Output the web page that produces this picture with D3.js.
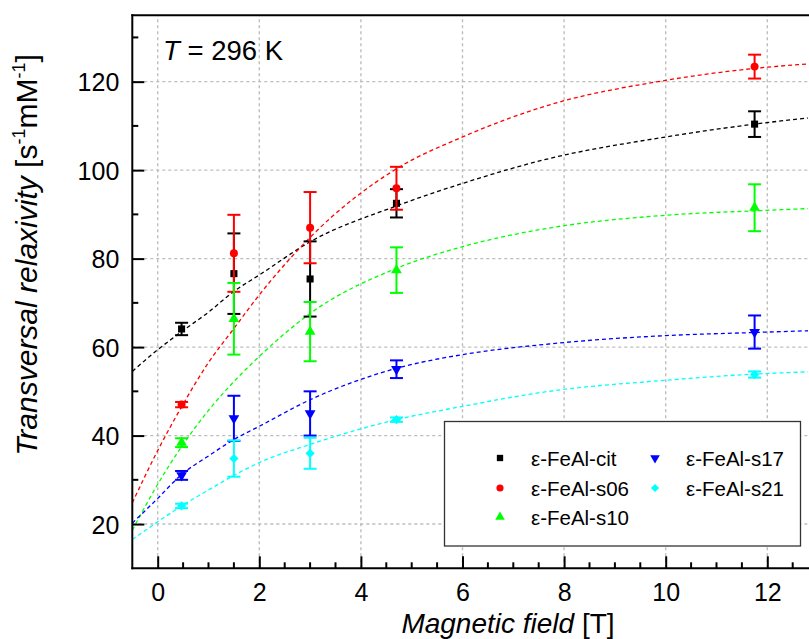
<!DOCTYPE html>
<html>
<head>
<meta charset="utf-8">
<script src="https://cdn.jsdelivr.net/npm/d3@7"></script>
<style>
  body { margin: 0; background: #fff; }
  svg { display: block; font-family: "Liberation Sans", Arial, sans-serif; }
</style>
</head>
<body>
<div id="chart"></div>
<script>
// measured field values (T)
const fieldT = [0.47, 1.5, 3, 4.7, 11.75];

// relaxivity values and error bars per sample
const citVals = [64.1, 76.6, 75.4, 92.5, 110.4];
const citErr = [1.4, 9.1, 8.5, 3.2, 2.9];
const s06Vals = [47.0, 81.2, 87.0, 95.9, 123.4];
const s06Err = [0.6, 8.7, 8.05, 4.85, 2.7];
const s10Vals = [38.4, 66.4, 63.5, 77.4, 91.5];
const s10Err = [1.0, 8.1, 6.7, 5.15, 5.3];
const s17Vals = [31.0, 43.9, 45.0, 55.0, 63.4];
const s17Err = [1.0, 5.1, 5.0, 2.0, 3.75];
const s21Vals = [24.1, 34.8, 36.0, 43.6, 53.8];
const s21Err = [0.5, 4.1, 3.5, 0.5, 0.7];

const fitT = [-0.5, 0, 0.47, 1, 1.5, 2, 3, 4.7, 6, 7.7, 10, 11.75, 12.8];
const citFit = [54.5, 59.4, 63.5, 67.9, 72.6, 76.3, 83.8, 91.9, 97.0, 102.6, 107.5, 110.4, 111.8];
const s06Fit = [24.8, 36.6, 46.5, 56.5, 64.2, 71.8, 84.8, 100.3, 107.5, 114.7, 120.3, 123.0, 124.0];
const s10Fit = [18.6, 29.0, 37.5, 45.7, 52.2, 57.9, 67.6, 77.8, 82.7, 86.9, 89.8, 90.8, 91.3];
const s17Fit = [20.2, 25.8, 31.2, 35.4, 39.1, 42.1, 48.1, 55.2, 58.3, 60.7, 62.6, 63.3, 63.7];
const s21Fit = [16.5, 20.5, 24.1, 27.7, 31.0, 33.9, 38.0, 43.6, 46.6, 50.0, 52.5, 53.9, 54.4];

const xTicks = [0, 2, 4, 6, 8, 10, 12];
const yTicks = [20, 40, 60, 80, 100, 120];

const series = [
  { name: "ε-FeAl-cit", color: "#000000", shape: "square", vals: citVals, err: citErr, fit: citFit },
  { name: "ε-FeAl-s06", color: "#ff0000", shape: "circle", vals: s06Vals, err: s06Err, fit: s06Fit },
  { name: "ε-FeAl-s10", color: "#00ff00", shape: "up", vals: s10Vals, err: s10Err, fit: s10Fit },
  { name: "ε-FeAl-s17", color: "#0000ff", shape: "down", vals: s17Vals, err: s17Err, fit: s17Fit },
  { name: "ε-FeAl-s21", color: "#00ffff", shape: "diamond", vals: s21Vals, err: s21Err, fit: s21Fit },
];

const width = 809;
const height = 639;
const plotLeft = 132.3, plotTop = 15.3, plotBottom = 568.3;

const svg = d3.select("#chart").append("svg")
  .attr("width", width).attr("height", height);

const x = d3.scaleLinear().domain([-0.5, 13]).range([plotLeft, plotLeft + 13.5 * 50.8]);
const y = d3.scaleLinear().domain([10, 135]).range([plotBottom, plotTop]);

// grid
const grid = svg.append("g")
  .attr("stroke", "#bdbdbd").attr("stroke-width", 1.4).attr("stroke-dasharray", "3,3");
grid.selectAll(".gx").data(xTicks).join("line")
  .attr("x1", d => x(d)).attr("x2", d => x(d)).attr("y1", plotBottom).attr("y2", plotTop);
grid.selectAll(".gy").data(yTicks).join("line")
  .attr("x1", plotLeft).attr("x2", width).attr("y1", d => y(d)).attr("y2", d => y(d));

// symbols
function symbolPath(shape, size) {
  if (shape === "square") return d3.symbol(d3.symbolSquare, size)();
  if (shape === "circle") return d3.symbol(d3.symbolCircle, size)();
  if (shape === "up" || shape === "down") return d3.symbol(d3.symbolTriangle, size)();
  return d3.symbol(d3.symbolSquare, size * 0.85)();
}
function symbolRotate(shape) {
  if (shape === "down") return 180;
  if (shape === "diamond") return 45;
  return 0;
}

// fits
const line = d3.line().x(d => x(d[0])).y(d => y(d[1])).curve(d3.curveMonotoneX);
series.forEach(s => {
  svg.append("path")
    .datum(fitT.map((t, i) => [t, s.fit[i]]))
    .attr("d", line)
    .attr("fill", "none")
    .attr("stroke", s.color)
    .attr("stroke-width", 1.3)
    .attr("stroke-dasharray", "4,3");
});

// error bars + points
series.forEach(s => {
  const g = svg.append("g").attr("stroke", s.color).attr("stroke-width", 2);
  fieldT.forEach((t, i) => {
    const lo = y(s.vals[i] - s.err[i]);
    const hi = y(s.vals[i] + s.err[i]);
    g.append("line").attr("x1", x(t)).attr("x2", x(t)).attr("y1", lo).attr("y2", hi);
    g.append("line").attr("x1", x(t) - 6.5).attr("x2", x(t) + 6.5).attr("y1", lo).attr("y2", lo);
    g.append("line").attr("x1", x(t) - 6.5).attr("x2", x(t) + 6.5).attr("y1", hi).attr("y2", hi);
  });
  svg.append("g").selectAll("path").data(fieldT).join("path")
    .attr("d", symbolPath(s.shape, 50))
    .attr("transform", (t, i) => `translate(${x(t)},${y(s.vals[i])}) rotate(${symbolRotate(s.shape)})`)
    .attr("fill", s.color);
});

// axes (ticks point inward)
const xAxis = d3.axisBottom(x).tickValues(xTicks).tickSize(-12).tickPadding(15).tickFormat(d3.format("d"));
const xMinor = d3.range(0, 28).map(i => -0.5 + i * 0.5).filter(v => !xTicks.includes(v) && v > -0.5);
const yAxis = d3.axisLeft(y).tickValues(yTicks).tickSize(-12).tickPadding(13).tickFormat(d3.format("d"));
const yMinor = [30, 50, 70, 90, 110, 130];

const gx = svg.append("g").attr("transform", `translate(0,${plotBottom})`).call(xAxis);
const gy = svg.append("g").attr("transform", `translate(${plotLeft},0)`).call(yAxis);
[gx, gy].forEach(g => {
  g.select(".domain").remove();
  g.selectAll(".tick line").attr("stroke", "#000").attr("stroke-width", 2);
  g.selectAll(".tick text").attr("font-size", 25).attr("fill", "#000")
    .attr("font-family", "'Liberation Sans', Arial, sans-serif");
});
gy.selectAll(".tick text").attr("dy", "0.36em");
gx.selectAll(".tick text").attr("dy", "0.72em");

svg.append("g").selectAll("line").data(xMinor).join("line")
  .attr("x1", d => x(d)).attr("x2", d => x(d)).attr("y1", plotBottom).attr("y2", plotBottom - 6)
  .attr("stroke", "#000").attr("stroke-width", 2);
svg.append("g").selectAll("line").data(yMinor).join("line")
  .attr("x1", plotLeft).attr("x2", plotLeft + 6).attr("y1", d => y(d)).attr("y2", d => y(d))
  .attr("stroke", "#000").attr("stroke-width", 2);

// frame
svg.append("line").attr("x1", plotLeft).attr("x2", plotLeft).attr("y1", plotTop - 1).attr("y2", plotBottom + 1)
  .attr("stroke", "#000").attr("stroke-width", 2);
svg.append("line").attr("x1", plotLeft - 1).attr("x2", width).attr("y1", plotBottom).attr("y2", plotBottom)
  .attr("stroke", "#000").attr("stroke-width", 2);
svg.append("line").attr("x1", plotLeft - 1).attr("x2", width).attr("y1", plotTop).attr("y2", plotTop)
  .attr("stroke", "#000").attr("stroke-width", 2);

// temperature label
const tl = svg.append("text").attr("x", 163).attr("y", 60).attr("font-size", 27.5);
tl.append("tspan").attr("font-style", "italic").text("T");
tl.append("tspan").text(" = 296 K");

// legend
const legend = svg.append("g");
legend.append("rect")
  .attr("x", 444.5).attr("y", 421.5).attr("width", 356).attr("height", 124.5)
  .attr("fill", "#fff").attr("stroke", "#333").attr("stroke-width", 1.3);
const legPos = [[500, 458], [500, 488], [500, 517], [655, 458], [655, 488]];
series.forEach((s, i) => {
  const [lx, ly] = legPos[i];
  legend.append("path")
    .attr("d", symbolPath(s.shape, 40))
    .attr("transform", `translate(${lx},${ly}) rotate(${symbolRotate(s.shape)})`)
    .attr("fill", s.color);
  legend.append("text").attr("x", lx + 31).attr("y", ly + 7.5)
    .attr("font-size", 20.5).text(s.name);
});

// axis titles
const xt = svg.append("text").attr("x", 508).attr("y", 633).attr("text-anchor", "middle").attr("font-size", 28);
xt.append("tspan").attr("font-style", "italic").text("Magnetic field");
xt.append("tspan").text(" [T]");

const yt = svg.append("text")
  .attr("transform", "translate(37,255) rotate(-90)")
  .attr("text-anchor", "middle").attr("font-size", 30);
yt.append("tspan").attr("font-style", "italic").text("Transversal relaxivity");
yt.append("tspan").text(" [s");
yt.append("tspan").attr("font-size", 18).attr("dy", -12).text("-1");
yt.append("tspan").attr("dy", 12).text("mM");
yt.append("tspan").attr("font-size", 18).attr("dy", -12).text("-1");
yt.append("tspan").attr("dy", 12).text("]");
</script>
</body>
</html>
